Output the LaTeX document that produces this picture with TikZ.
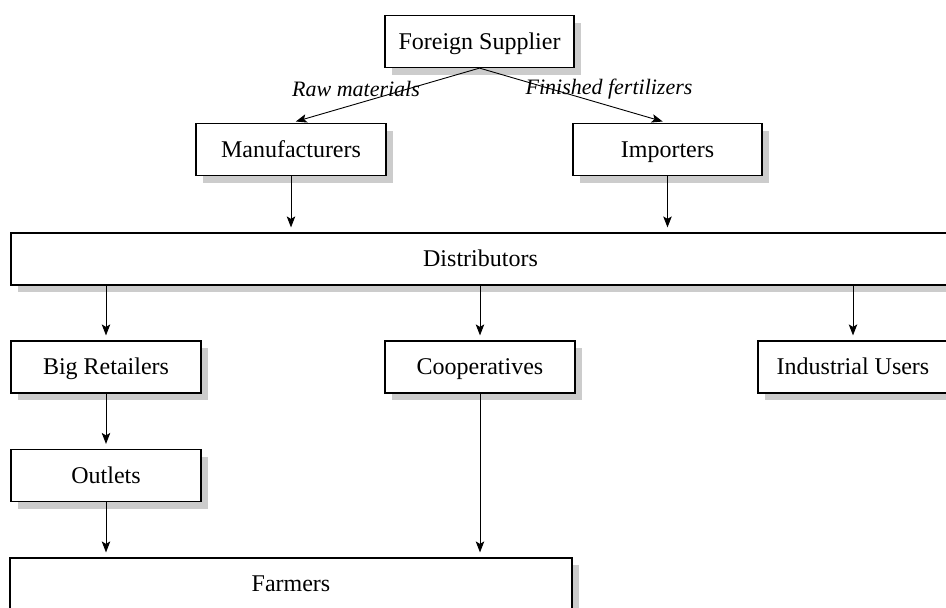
\documentclass[tikz,border=0pt]{standalone}
\usepackage{fontspec}
\setmainfont{Liberation Serif}
\usetikzlibrary{arrows.meta,shadows}

\begin{document}
\begin{tikzpicture}[x=1pt,y=-1pt,
		chainbox/.style={draw=black,line width=1.2pt,fill=white,inner sep=0pt,minimum height=52pt,
			text height=18pt,text depth=3pt,
			font=\fontsize{24}{28}\selectfont,
			drop shadow={shadow xshift=7pt,shadow yshift=-7pt,fill=black!20,opacity=1}},
		flowlabel/.style={font=\fontsize{22}{26}\selectfont\itshape,inner sep=0pt},
		flow/.style={line width=0.9pt,-{Stealth[length=11pt,width=8.5pt,inset=2.5pt]},shorten >=5pt}]
		\clip (0,0) rectangle (946,608);

		\node[chainbox,minimum width=189pt] (fs) at (479.5,41.5) {Foreign Supplier};
		\node[chainbox,minimum width=190pt] (man) at (291,149.5) {Manufacturers};
		\node[chainbox,minimum width=189pt] (imp) at (667.5,149.5) {Importers};
		\node[chainbox,minimum width=939pt] (dist) at (480.5,259) {Distributors};
		\node[chainbox,minimum width=190pt] (br) at (106,367) {Big Retailers};
		\node[chainbox,minimum width=190pt] (coop) at (480,367) {Cooperatives};
		\node[chainbox,minimum width=190pt] (iu) at (853,367) {Industrial Users};
		\node[chainbox,minimum width=190pt] (out) at (106,475.5) {Outlets};
		\node[chainbox,minimum width=562pt] (farm) at (291,584) {Farmers};

		\node[flowlabel] (raw) at (356,89) {Raw materials};
		\node[flowlabel] (fin) at (609,89) {Finished fertilizers};

		\draw[flow] (fs.south) -- (man.north);
		\draw[flow] (fs.south) -- (imp.north);

		\foreach \a in {man, imp} {\draw[flow] (\a.south) -- (\a.south |- dist.north);}
		\foreach \b in {br, coop, iu} {\draw[flow] (dist.south -| \b.north) -- (\b.north);}

		\draw[flow] (br.south) -- (out.north);
		\draw[flow] (out.south) -- (out.south |- farm.north);
		\draw[flow] (coop.south) -- (coop.south |- farm.north);
	\end{tikzpicture}
\end{document}
